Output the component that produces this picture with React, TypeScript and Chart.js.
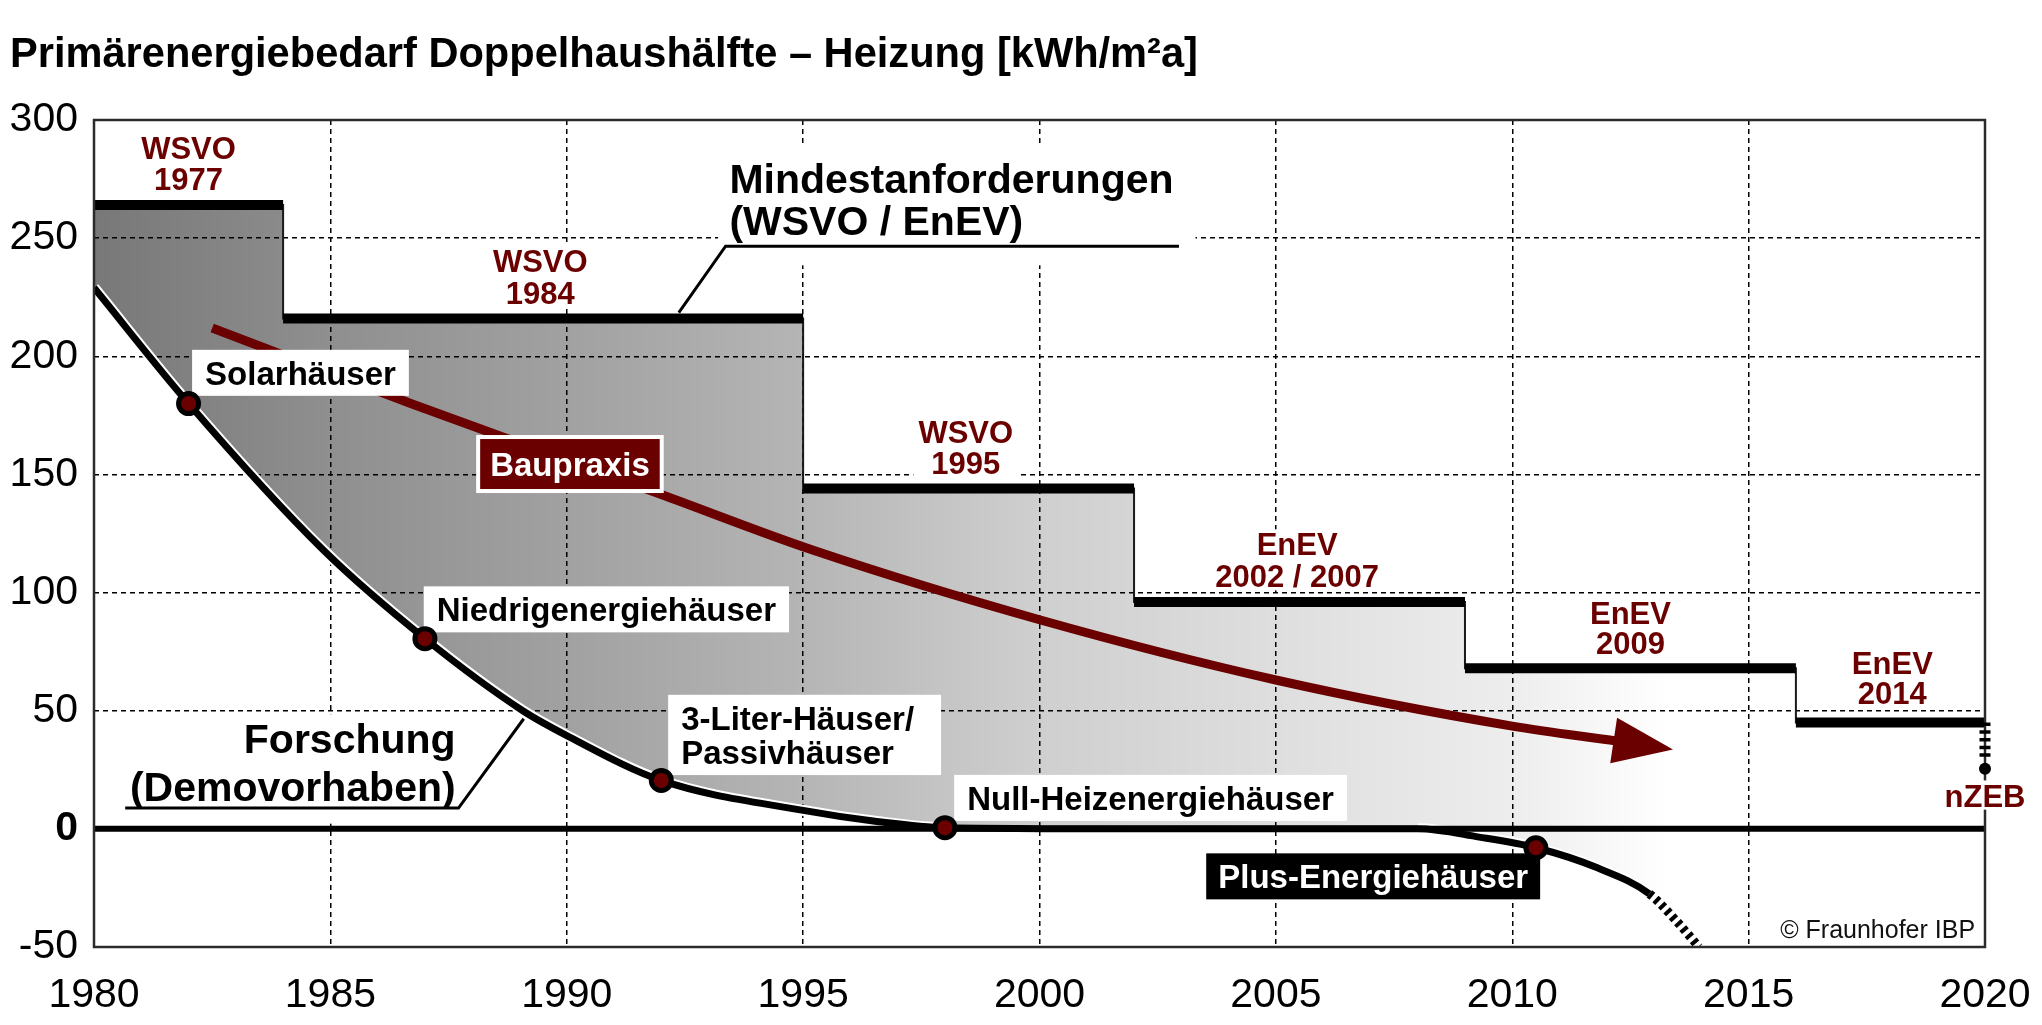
import React, { useEffect, useRef } from 'react';
import { Chart, registerables } from 'chart.js';

Chart.register(...registerables);

const FONT = '"Liberation Sans", Arial, Helvetica, sans-serif';
const DARK_RED = '#6b0000';

// ---- axis ticks ----
const X_TICKS = [1980, 1985, 1990, 1995, 2000, 2005, 2010, 2015, 2020];
const Y_TICKS = [-50, 0, 50, 100, 150, 200, 250, 300];

// ---- Mindestanforderungen (WSVO / EnEV): level valid from STEP_YEARS[i] to STEP_YEARS[i+1] ----
const STEP_YEARS = [1980, 1984, 1995, 2002, 2009, 2016, 2020];
const STEP_VALUES = [264, 216, 144, 96, 68, 45];

// ---- Forschung (Demovorhaben) ----
const RESEARCH_YEARS = [1980, 1982, 1984.85, 1987, 1989.07, 1990, 1992, 1995, 1996.6, 1998, 2003, 2008, 2009.3, 2010.5, 2011.8, 2012.9, 2013.45, 2013.95];
const RESEARCH_VALUES = [229, 180, 118, 80.5, 50, 39.5, 20.5, 7.8, 3, 0.5, 0, 0, -3.5, -8, -16.5, -27.5, -38.5, -50];
const RESEARCH_DASH_FROM = 2012.9;

// ---- milestones on the research curve ----
const MILESTONE_YEARS = [1982, 1987, 1992, 1998, 2010.5];
const MILESTONE_VALUES = [180, 80.5, 20.5, 0.5, -8];

// ---- Baupraxis ----
const PRACTICE_YEARS = [1982.5, 1986.7, 1992, 1995.2, 2000, 2005, 2010, 2012.2];
const PRACTICE_VALUES = [212, 180, 141.5, 118, 88.5, 63, 43.5, 37.2];
const PRACTICE_ARROW_TIP = [2013.4, 33.6];

// ---- nZEB ----
const NZEB_YEARS = [2020, 2020];
const NZEB_VALUES = [45, 30];
const NZEB_POINT = [2020, 25.4];

// ---- fill gradient (fraction of 1980..FADE_END, alpha) ----
const FADE_END = 2013.3;
const GRADIENT_STOPS = [
  [0, 0.53], [0.15, 0.44], [0.3, 0.37], [0.45, 0.29], [0.6, 0.19], [0.75, 0.13], [0.9, 0.07], [1, 0],
];

// ---- annotation texts (anchor year, cap-centre values per line) ----
const STANDARD_LABELS = [
  { lines: ['WSVO', '1977'], x: 1982.0, y: [288.2, 275.0] },
  { lines: ['WSVO', '1984'], x: 1989.44, y: [240.4, 226.9] },
  { lines: ['WSVO', '1995'], x: 1998.44, y: [168.0, 154.7] },
  { lines: ['EnEV', '2002 / 2007'], x: 2005.45, y: [120.4, 106.9] },
  { lines: ['EnEV', '2009'], x: 2012.5, y: [91.4, 78.7] },
  { lines: ['EnEV', '2014'], x: 2018.04, y: [70.4, 57.5] },
  { lines: ['nZEB'], x: 2020, y: [14.1] },
];
const HOUSE_LABELS = [
  { lines: ['Solarhäuser'], x: 1982.35, y: [193.0], extraRight: 0 },
  { lines: ['Niedrigenergiehäuser'], x: 1987.25, y: [92.9], extraRight: 0 },
  { lines: ['3-Liter-Häuser/', 'Passivhäuser'], x: 1992.42, y: [47.0, 32.5], extraRight: 14 },
  { lines: ['Null-Heizenergiehäuser'], x: 1998.47, y: [13.1], extraRight: 0 },
];
const PLUS_LABEL = { lines: ['Plus-Energiehäuser'], x: 2003.78, y: [-20.1], extraRight: 0 };
const PRACTICE_LABEL = { lines: ['Baupraxis'], x: 1988.38, y: [154.4], extraRight: 0 };
const MINDEST_LABEL = { lines: ['Mindestanforderungen', '(WSVO / EnEV)'], x: 1993.44, y: [275.2, 257.7] };
const MINDEST_BOX = { x0: 1993.2, x1: 2003.3, y0: 238.5, y1: 290.2 };
const MINDEST_CONNECTOR = [[1992.37, 218.5], [1993.36, 246.6], [2002.95, 246.6]];
const FORSCHUNG_LABEL = { lines: ['Forschung', '(Demovorhaben)'], x: 1987.65, y: [38.5, 17.9] };
const FORSCHUNG_BOX = { x0: 1980.45, x1: 1987.96, y0: 2.2, y1: 48.5 };
const FORSCHUNG_CONNECTOR = [[1980.66, 8.8], [1987.71, 8.8], [1989.09, 46.6]];
const CREDIT = { text: '© Fraunhofer IBP', x: 2019.79, y: -42.2 };
const TITLE = 'Primärenergiebedarf Doppelhaushälfte – Heizung [kWh/m²a]';

const f = (weight: string, size: number) => `${weight} ${size}px ${FONT}`;

function drawArrow(chart: any) {
  const { ctx } = chart;
  const X = (v: number) => chart.scales.x.getPixelForValue(v);
  const Y = (v: number) => chart.scales.y.getPixelForValue(v);
  const n = PRACTICE_YEARS.length;
  const bx = X(PRACTICE_YEARS[n - 1]);
  const by = Y(PRACTICE_VALUES[n - 1]);
  const tx = X(PRACTICE_ARROW_TIP[0]);
  const ty = Y(PRACTICE_ARROW_TIP[1]);
  const len = Math.hypot(tx - bx, ty - by);
  const ux = (tx - bx) / len;
  const uy = (ty - by) / len;
  const L = 60;
  const H = 23;
  const cx = tx - ux * L;
  const cy = ty - uy * L;
  ctx.save();
  ctx.fillStyle = DARK_RED;
  ctx.beginPath();
  ctx.moveTo(tx, ty);
  ctx.lineTo(cx - uy * H, cy + ux * H);
  ctx.lineTo(cx + uy * H, cy - ux * H);
  ctx.closePath();
  ctx.fill();
  ctx.restore();
}

function drawAnnotations(chart: any) {
  const { ctx, chartArea: a } = chart;
  const X = (v: number) => chart.scales.x.getPixelForValue(v);
  const Y = (v: number) => chart.scales.y.getPixelForValue(v);
  ctx.save();
  ctx.setLineDash([]);

  // frame
  ctx.strokeStyle = '#2b2b2b';
  ctx.lineWidth = 2.5;
  ctx.strokeRect(a.left, a.top, a.right - a.left, a.bottom - a.top);

  const box = (b: any) => {
    ctx.fillRect(X(b.x0), Y(b.y1), X(b.x1) - X(b.x0), Y(b.y0) - Y(b.y1));
  };
  const poly = (pts: number[][]) => {
    ctx.beginPath();
    pts.forEach((p, i) => (i ? ctx.lineTo(X(p[0]), Y(p[1])) : ctx.moveTo(X(p[0]), Y(p[1]))));
    ctx.stroke();
  };

  // big label boxes and connectors
  ctx.fillStyle = '#fff';
  box(MINDEST_BOX);
  box(FORSCHUNG_BOX);
  ctx.strokeStyle = '#000';
  ctx.lineWidth = 3;
  ctx.lineJoin = 'miter';
  poly(MINDEST_CONNECTOR);
  poly(FORSCHUNG_CONNECTOR);

  ctx.textBaseline = 'alphabetic';

  // standard labels (dark red, centred, white backing)
  {
    const size = 31;
    const cap = 0.716 * size;
    ctx.font = f('bold', size);
    STANDARD_LABELS.forEach((l) => {
      const w = Math.max(...l.lines.map((s) => ctx.measureText(s).width));
      const cx = X(l.x);
      const top = Y(l.y[0]) - cap / 2 - 4;
      const bot = Y(l.y[l.y.length - 1]) + cap / 2 + 3;
      ctx.fillStyle = '#fff';
      ctx.fillRect(cx - w / 2 - 5, top, w + 10, bot - top);
      ctx.fillStyle = DARK_RED;
      ctx.textAlign = 'center';
      l.lines.forEach((s, i) => ctx.fillText(s, cx, Y(l.y[i]) + cap / 2));
    });
  }

  // house labels (boxes with text)
  const boxedLabel = (l: any, bg: string, fg: string, padX: number, padY: number) => {
    const size = 33;
    const cap = 0.716 * size;
    ctx.font = f('bold', size);
    const w = Math.max(...l.lines.map((s: string) => ctx.measureText(s).width));
    const x = X(l.x);
    const top = Y(l.y[0]) - padY;
    const bot = Y(l.y[l.y.length - 1]) + padY;
    ctx.fillStyle = bg;
    ctx.fillRect(x - padX, top, w + 2 * padX + (l.extraRight || 0), bot - top);
    ctx.fillStyle = fg;
    ctx.textAlign = 'left';
    l.lines.forEach((s: string, i: number) => ctx.fillText(s, x, Y(l.y[i]) + cap / 2));
  };
  HOUSE_LABELS.forEach((l) => boxedLabel(l, '#fff', '#000', 13, 23));
  boxedLabel(PLUS_LABEL, '#000', '#fff', 12, 23);
  {
    // Baupraxis: white outline, dark red box
    ctx.font = f('bold', 33);
    const w = ctx.measureText(PRACTICE_LABEL.lines[0]).width;
    const x = X(PRACTICE_LABEL.x);
    const yc = Y(PRACTICE_LABEL.y[0]);
    ctx.fillStyle = '#fff';
    ctx.fillRect(x - 14, yc - 29, w + 28, 58);
    boxedLabel(PRACTICE_LABEL, DARK_RED, '#fff', 10, 25);
  }

  // big labels
  {
    const size = 41;
    const cap = 0.716 * size;
    ctx.font = f('bold', size);
    ctx.fillStyle = '#000';
    ctx.textAlign = 'left';
    MINDEST_LABEL.lines.forEach((s, i) => ctx.fillText(s, X(MINDEST_LABEL.x), Y(MINDEST_LABEL.y[i]) + cap / 2));
    ctx.textAlign = 'right';
    FORSCHUNG_LABEL.lines.forEach((s, i) => ctx.fillText(s, X(FORSCHUNG_LABEL.x), Y(FORSCHUNG_LABEL.y[i]) + cap / 2));
  }

  // credit
  ctx.font = f('normal', 25);
  ctx.fillStyle = '#111';
  ctx.textAlign = 'right';
  ctx.fillText(CREDIT.text, X(CREDIT.x), Y(CREDIT.y) + 0.358 * 25);

  ctx.restore();
}

const annotationPlugin = {
  id: 'energyAnnotations',
  afterDatasetDraw(chart: any, args: any) {
    const ds = chart.data.datasets[args.index];
    if (ds && ds.label === 'Baupraxis') drawArrow(chart);
  },
  beforeDatasetDraw(chart: any, args: any) {
    const ds = chart.data.datasets[args.index];
    if (ds && ds.label === 'Meilensteine') drawAnnotations(chart);
  },
  afterDraw(chart: any) {
    const { ctx } = chart;
    ctx.save();
    ctx.font = f('bold', 41.6);
    ctx.fillStyle = '#000';
    ctx.textAlign = 'left';
    ctx.textBaseline = 'alphabetic';
    ctx.fillText(TITLE, 10, 67);
    ctx.restore();
  },
};

function buildConfig(): any {
  const stepFill = STEP_YEARS.map((yr, i) => ({ x: yr, y: STEP_VALUES[Math.min(i, STEP_VALUES.length - 1)] }));
  const bars: any[] = [];
  STEP_VALUES.forEach((v, i) => {
    bars.push({ x: STEP_YEARS[i], y: v });
    bars.push({ x: STEP_YEARS[i + 1], y: v });
    bars.push({ x: STEP_YEARS[i + 1], y: null });
  });
  const research = RESEARCH_YEARS.map((yr, i) => ({ x: yr, y: RESEARCH_VALUES[i] }));
  const practice = PRACTICE_YEARS.map((yr, i) => ({ x: yr, y: PRACTICE_VALUES[i] }));
  const milestones = MILESTONE_YEARS.map((yr, i) => ({ x: yr, y: MILESTONE_VALUES[i] }));
  const nzeb = NZEB_YEARS.map((yr, i) => ({ x: yr, y: NZEB_VALUES[i] }));

  const gradient = (c: any) => {
    const chart = c.chart;
    const { ctx, chartArea, scales } = chart;
    if (!chartArea) return 'rgba(0,0,0,0.3)';
    const x0 = scales.x.getPixelForValue(1980);
    const x1 = scales.x.getPixelForValue(FADE_END);
    const g = ctx.createLinearGradient(x0, 0, x1, 0);
    GRADIENT_STOPS.forEach(([p, al]) => g.addColorStop(p, `rgba(0,0,0,${al})`));
    return g;
  };

  const base = { pointRadius: 0, pointHoverRadius: 0, fill: false, tension: 0 };

  return {
    type: 'line',
    data: {
      datasets: [
        {
          ...base,
          label: 'Mindestanforderungen-Fläche',
          data: stepFill,
          stepped: 'before',
          borderColor: '#1a1a1a',
          borderWidth: 2,
          backgroundColor: gradient,
          fill: 5,
          order: 10,
        },
        {
          ...base,
          label: 'Forschung-Rand',
          data: research,
          cubicInterpolationMode: 'monotone',
          borderColor: '#fff',
          borderWidth: 11,
          segment: {
            borderColor: (c: any) => {
              const x0 = c.p0.parsed.x;
              const x1 = c.p1.parsed.x;
              if ((x0 >= 1998 && x1 <= 2008) || x0 >= RESEARCH_DASH_FROM - 1e-6) return 'rgba(255,255,255,0)';
              return undefined;
            },
          },
          order: 9.5,
        },
        {
          ...base,
          label: 'Nulllinie',
          data: [{ x: 1980, y: 0 }, { x: 2020, y: 0 }],
          borderColor: '#000',
          borderWidth: 6,
          order: 9,
        },
        {
          ...base,
          label: 'Baupraxis',
          data: practice,
          cubicInterpolationMode: 'monotone',
          borderColor: DARK_RED,
          borderWidth: 9,
          order: 8,
        },
        {
          ...base,
          label: 'WSVO / EnEV',
          data: bars,
          spanGaps: false,
          borderColor: '#000',
          borderWidth: 10,
          borderCapStyle: 'butt',
          order: 7,
        },
        {
          ...base,
          label: 'Forschung',
          data: research,
          cubicInterpolationMode: 'monotone',
          borderColor: '#000',
          borderWidth: 7,
          borderJoinStyle: 'round',
          segment: {
            borderDash: (c: any) => (c.p0.parsed.x >= RESEARCH_DASH_FROM - 1e-6 ? [4, 4] : undefined),
            borderWidth: (c: any) => (c.p0.parsed.x >= RESEARCH_DASH_FROM - 1e-6 ? 9 : undefined),
          },
          order: 5,
        },
        {
          label: 'Meilensteine',
          data: milestones,
          showLine: false,
          fill: false,
          pointRadius: 10,
          pointHoverRadius: 10,
          pointBorderWidth: 5,
          pointBorderColor: '#000',
          pointBackgroundColor: DARK_RED,
          order: 0,
        },
        {
          ...base,
          label: 'nZEB',
          data: nzeb,
          borderColor: '#000',
          borderWidth: 11,
          borderDash: [3.5, 4.2],
          clip: false,
          order: -1,
        },
        {
          label: 'nZEB-Punkt',
          data: [{ x: NZEB_POINT[0], y: NZEB_POINT[1] }],
          showLine: false,
          fill: false,
          pointRadius: 6,
          pointHoverRadius: 6,
          pointBorderWidth: 0,
          pointBackgroundColor: '#000',
          clip: false,
          order: -2,
        },
      ],
    },
    options: {
      responsive: false,
      animation: false,
      devicePixelRatio: 1,
      events: [],
      layout: { padding: { top: 120, right: 57, left: 0, bottom: 0 } },
      plugins: {
        legend: { display: false },
        tooltip: { enabled: false },
        title: { display: false },
      },
      scales: {
        x: {
          type: 'linear',
          min: 1980,
          max: 2020,
          afterBuildTicks: (s: any) => {
            s.ticks = X_TICKS.map((v) => ({ value: v }));
          },
          afterFit: (s: any) => {
            s.height = 78;
            s.paddingLeft = 0;
            s.paddingRight = 0;
          },
          ticks: {
            autoSkip: false,
            maxRotation: 0,
            padding: 24,
            color: '#000',
            font: { family: FONT, size: 41 },
            callback: (v: any) => String(v),
          },
          grid: { color: '#000', lineWidth: 1.5, drawTicks: false },
          border: { display: false, dash: [5, 4] },
        },
        y: {
          type: 'linear',
          min: -50,
          max: 300,
          afterBuildTicks: (s: any) => {
            s.ticks = Y_TICKS.map((v) => ({ value: v }));
          },
          afterFit: (s: any) => {
            s.width = 94;
            s.paddingTop = 0;
            s.paddingBottom = 0;
          },
          ticks: {
            padding: 16,
            color: '#000',
            font: (c: any) => ({ family: FONT, size: 41, weight: c.tick && c.tick.value === 0 ? 'bold' : 'normal' }),
            callback: (v: any) => String(v),
          },
          grid: { color: '#000', lineWidth: 1.5, drawTicks: false },
          border: { display: false, dash: [5, 4] },
        },
      },
    },
    plugins: [annotationPlugin],
  };
}

export default function App() {
  const ref = useRef<HTMLCanvasElement>(null);
  useEffect(() => {
    if (!ref.current) return;
    Chart.defaults.font.family = FONT;
    const chart = new Chart(ref.current, buildConfig());
    return () => chart.destroy();
  }, []);
  return (
    <div style={{ position: 'fixed', left: 0, top: 0, width: 2042, height: 1025, background: '#fff' }}>
      <canvas ref={ref} width={2042} height={1025} style={{ display: 'block', width: 2042, height: 1025 }} />
    </div>
  );
}
